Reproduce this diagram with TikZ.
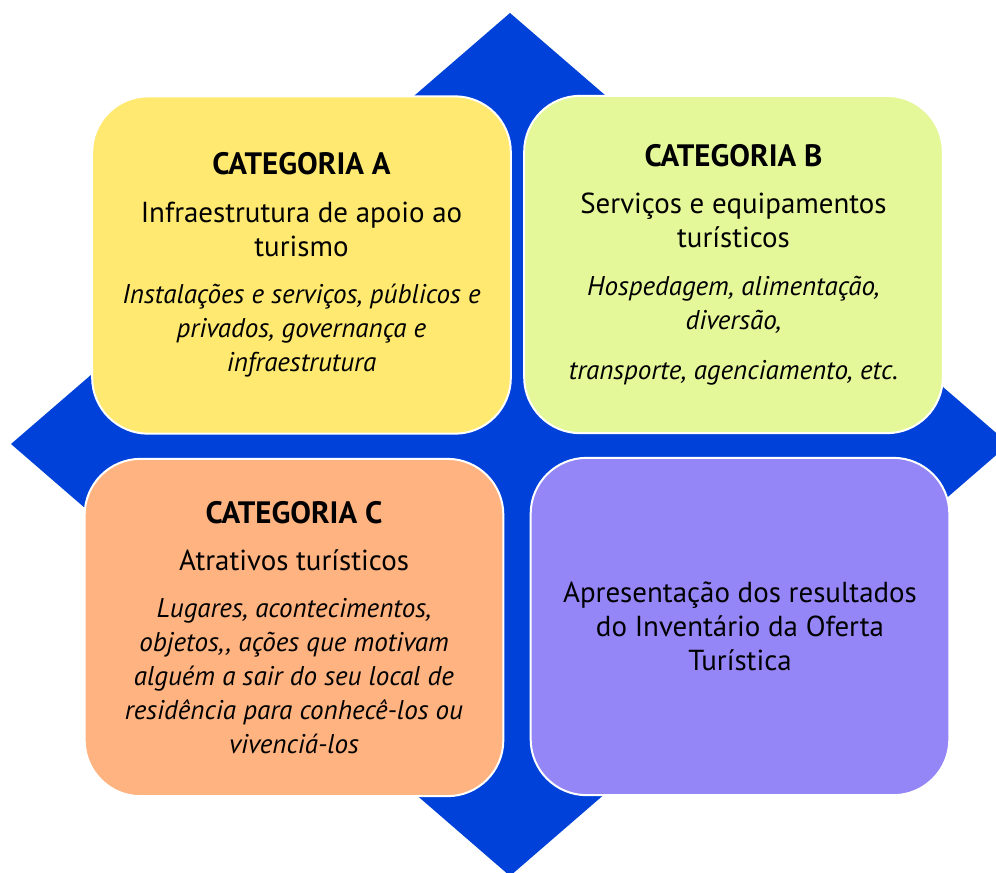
\documentclass[tikz,border=0pt]{standalone}
\usepackage{fontspec}
\setmainfont{PT Sans}
\definecolor{losango}{RGB}{0,66,217}
\definecolor{amareloA}{RGB}{255,233,112}
\definecolor{limaB}{RGB}{228,248,154}
\definecolor{salmaoC}{RGB}{255,179,128}
\definecolor{roxoD}{RGB}{148,134,247}
\tikzset{
  caixa/.style={rectangle, rounded corners=42pt, draw=white, line width=1.5pt,
    align=center, inner sep=0pt, minimum width=314pt, minimum height=253pt,
    font=\fontsize{21.7}{25.5}\selectfont}
}
\newcommand{\cat}[1]{{\fontsize{23.2}{25.5}\selectfont\bfseries CATEGORIA #1}}
\newcommand{\itl}{\fontsize{20.3}{25.5}\selectfont\itshape}
\begin{document}
\begin{tikzpicture}[x=0.75pt, y=-0.75pt]
          \useasboundingbox (0,0) rectangle (996,872);
          \clip (0,0) rectangle (996,872);
          \fill[losango] (510,13) -- (1009,444) -- (510,876) -- (11,444) -- cycle;
          \node[caixa, fill=amareloA] (catA) at (301.5,265) {\cat{A}\\[10pt]
            Infraestrutura de apoio ao\\ turismo\\[10pt]
            \itl Instalações e serviços, públicos e\\ \itl privados, governança e\\ \itl infraestrutura};
          \node[caixa, fill=limaB] (catB) at (733.5,264.5) {\cat{B}\\[10pt]
            Serviços e equipamentos\\ turísticos\\[10pt]
            \itl Hospedagem, alimentação,\\ \itl diversão,\\[12pt]
            \itl transporte, agenciamento, etc.};
          \node[caixa, fill=salmaoC] (catC) at (294,627.5) {\cat{C}\\[10pt]
            Atrativos turísticos\\[10pt]
            \itl Lugares, acontecimentos,\\ \itl objetos,\kern1.5pt, ações que motivam\\
            \itl alguém a sair do seu local de\\ \itl residência para conhecê-los ou\\
            \itl vivenciá-los};
          \node[caixa, fill=roxoD] (resultado) at (740,626.5) {Apresentação dos resultados\\
            do Inventário da Oferta\\ Turística};
        \end{tikzpicture}
\end{document}
